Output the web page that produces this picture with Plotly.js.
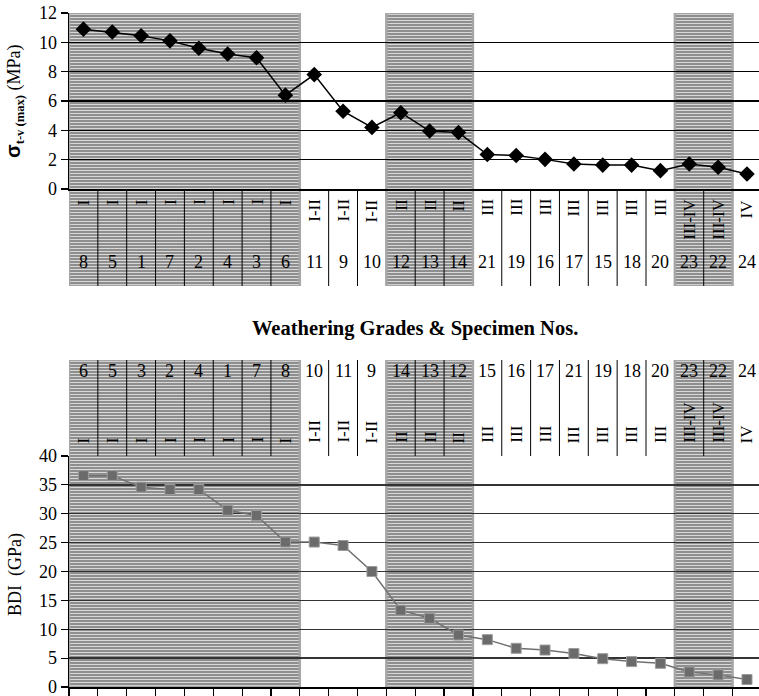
<!DOCTYPE html>
<html>
<head>
<meta charset="utf-8">
<script src="https://cdn.plot.ly/plotly-3.0.1.min.js"></script>
<style>
  html, body { margin: 0; padding: 0; background: #fff; }
  #chart { width: 759px; height: 696px; }
</style>
</head>
<body>
<div id="chart"></div>
<script>
// ---------------- DATA ----------------
const topSpecimens = [8, 5, 1, 7, 2, 4, 3, 6, 11, 9, 10, 12, 13, 14, 21, 19, 16, 17, 15, 18, 20, 23, 22, 24];
const topGrades = ['I','I','I','I','I','I','I','I','I-II','I-II','I-II','II','II','II','III','III','III','III','III','III','III','III-IV','III-IV','IV'];
const sigmaTV = [10.9, 10.7, 10.45, 10.1, 9.6, 9.2, 8.95, 6.4, 7.8, 5.3, 4.2, 5.2, 3.95, 3.85, 2.35, 2.28, 2.02, 1.7, 1.63, 1.63, 1.25, 1.7, 1.48, 1.02];

const bottomSpecimens = [6, 5, 3, 2, 4, 1, 7, 8, 10, 11, 9, 14, 13, 12, 15, 16, 17, 21, 19, 18, 20, 23, 22, 24];
const bottomGrades = ['I','I','I','I','I','I','I','I','I-II','I-II','I-II','II','II','II','III','III','III','III','III','III','III','III-IV','III-IV','IV'];
const bdi = [36.6, 36.6, 34.6, 34.2, 34.2, 30.6, 29.7, 25.1, 25.1, 24.5, 20.0, 13.3, 11.9, 9.0, 8.2, 6.7, 6.4, 5.8, 4.9, 4.4, 4.1, 2.6, 2.1, 1.3];

const topTicks = [0, 2, 4, 6, 8, 10, 12];
const bottomTicks = [0, 5, 10, 15, 20, 25, 30, 35, 40];
const topTitle = '<b><span style="font-family:Liberation Sans;font-size:20px">σ</span><sub>t-v (max)</sub></b> (MPa)';
const bottomTitle = 'BDI\u00a0 (GPa)';
const middleTitle = 'Weathering Grades & Specimen Nos.';

// ---------------- GEOMETRY (pixels) ----------------
const W = 759, H = 696;
const PX_LEFT = 69;
const CAT_W = 28.85;
const py = p => 1 - p / H;
const topPlot = [13, 189], topTable = [189, 286];
const botTable = [360, 456], botPlot = [456, 687];
const xRange = [-0.5, -0.5 + (W - PX_LEFT) / CAT_W];
const FONT = 'Liberation Serif';
const xDom = [PX_LEFT / W, 1];

function groupsOf(grades) {
  const out = []; let prev = null;
  grades.forEach((g, i) => {
    if (g !== prev) { out.push({grade: g, start: i, end: i, idx: out.length}); prev = g; }
    else out[out.length - 1].end = i;
  });
  return out;
}
function groupIndex(grades) {
  const res = []; let gi = -1, prev = null;
  grades.forEach(g => { if (g !== prev) { gi++; prev = g; } res.push(gi); });
  return res;
}

function hatchTrace(grades, xa, ya) {
  const sh = groupsOf(grades).filter(b => b.idx % 2 === 0);
  return {
    type: 'bar', xaxis: xa, yaxis: ya,
    x: sh.map(b => (b.start + b.end) / 2),
    width: sh.map(b => b.end - b.start + 1),
    y: sh.map(() => 1), base: 0,
    cliponaxis: false,
    hoverinfo: 'skip', showlegend: false,
    marker: {
      color: '#8e8e8e',
      line: {color: '#a6a6a6', width: 2.5},
      pattern: {shape: '-', bgcolor: '#8e8e8e', fgcolor: '#ffffff', size: 3, solidity: 0.22, fillmode: 'replace'}
    }
  };
}

const idxTop = topSpecimens.map((_, i) => i);
const idxBot = bottomSpecimens.map((_, i) => i);

// subplots: x/y = top hatch, x2/y2 = bottom hatch, x3/y3 = top data, x4/y4 = bottom data
const data = [
  hatchTrace(topGrades, 'x', 'y'),
  hatchTrace(bottomGrades, 'x2', 'y2'),
  {
    type: 'scatter', mode: 'lines+markers', xaxis: 'x3', yaxis: 'y3',
    x: idxTop, y: sigmaTV, cliponaxis: false, showlegend: false,
    line: {color: '#000000', width: 1.5},
    marker: {symbol: 'diamond', size: 12, color: '#000000'}
  },
  {
    type: 'scatter', mode: 'lines+markers', xaxis: 'x4', yaxis: 'y4',
    x: idxBot, y: bdi, cliponaxis: false, showlegend: false,
    line: {color: '#707070', width: 1.5},
    marker: {symbol: 'square', size: 10, color: '#6b6b6b', line: {color: '#9c9c9c', width: 1}}
  }
];

const hiddenY = (dom, anchor) => ({domain: dom, range: [0, 1], visible: false, anchor: anchor, fixedrange: true});
const hiddenX = (anchor) => ({domain: xDom, range: xRange, visible: false, anchor: anchor, fixedrange: true});

const layout = {
  width: W, height: H,
  margin: {l: 0, r: 0, t: 0, b: 0, pad: 0},
  paper_bgcolor: '#ffffff',
  plot_bgcolor: 'rgba(0,0,0,0)',
  font: {family: FONT, color: '#000000', size: 18},
  showlegend: false,
  barmode: 'overlay',
  xaxis: hiddenX('y'),
  xaxis2: hiddenX('y2'),
  yaxis: hiddenY([py(topTable[1]), py(topPlot[0])], 'x'),
  yaxis2: hiddenY([py(botPlot[1]), py(botTable[0])], 'x2'),
  xaxis3: {
    domain: xDom, range: xRange, anchor: 'y3',
    showgrid: false, zeroline: false, showticklabels: false, ticks: '',
    showline: true, linecolor: '#000000', linewidth: 1.5
  },
  xaxis4: {
    domain: xDom, range: xRange, anchor: 'y4',
    showgrid: false, zeroline: false, showticklabels: false,
    tickmode: 'linear', tick0: -0.5, dtick: 1,
    ticks: 'outside', ticklen: 8, tickwidth: 1.2, tickcolor: '#000000',
    showline: true, linecolor: '#000000', linewidth: 1.5
  },
  yaxis3: {
    domain: [py(topPlot[1]), py(topPlot[0])], range: [0, 12], anchor: 'x3',
    tickmode: 'array', tickvals: topTicks, ticklabeloverflow: 'allow',
    ticks: 'outside', ticklen: 7, tickwidth: 1.2, tickcolor: '#000000',
    showline: true, linecolor: '#000000', linewidth: 1.5,
    showgrid: true, gridcolor: '#000000', gridwidth: 1.3, zeroline: false,
    tickfont: {family: FONT, size: 18, color: '#000000'}
  },
  yaxis4: {
    domain: [py(botPlot[1]), py(botPlot[0])], range: [0, 40], anchor: 'x4',
    tickmode: 'array', tickvals: bottomTicks, ticklabeloverflow: 'allow',
    ticks: 'outside', ticklen: 7, tickwidth: 1.2, tickcolor: '#000000',
    showline: true, linecolor: '#000000', linewidth: 1.5,
    showgrid: true, gridcolor: '#333333', gridwidth: 1.3, zeroline: false,
    tickfont: {family: FONT, size: 18, color: '#000000'}
  },
  annotations: [],
  shapes: []
};

// table cell separator lines
function tableLines(grades, xref, yTopPx, yBotPx) {
  const gi = groupIndex(grades);
  for (let k = 1; k < grades.length; k++) {
    if (gi[k] !== gi[k - 1]) continue; // block border drawn by hatch outline
    layout.shapes.push({
      type: 'line', xref: xref, yref: 'paper', layer: 'above',
      x0: k - 0.5, x1: k - 0.5, y0: py(yBotPx), y1: py(yTopPx),
      line: {color: '#000000', width: 1}
    });
  }
}
tableLines(topGrades, 'x', topTable[0], topTable[1]);
tableLines(bottomGrades, 'x2', botTable[0], botTable[1]);

// table texts
function tableText(specs, grades, xref, numY, gradeY, gradeAnchor) {
  specs.forEach((s, i) => {
    layout.annotations.push({
      xref: xref, yref: 'paper', x: i, y: py(numY), text: String(s),
      showarrow: false, xanchor: 'center', yanchor: 'middle',
      font: {family: FONT, size: 18, color: '#000000'}
    });
    layout.annotations.push({
      xref: xref, yref: 'paper', x: i, y: py(gradeY), text: grades[i],
      showarrow: false, xanchor: 'center', yanchor: gradeAnchor, textangle: -90,
      font: {family: FONT, size: 17, color: '#000000'}
    });
  });
}
tableText(topSpecimens, topGrades, 'x', 262, 197, 'top');
tableText(bottomSpecimens, bottomGrades, 'x2', 371, 445, 'bottom');

// titles
layout.annotations.push({
  xref: 'paper', yref: 'paper', x: 14 / W, y: py(101), text: topTitle, textangle: -90,
  showarrow: false, xanchor: 'center', yanchor: 'middle',
  font: {family: FONT, size: 18, color: '#000000'}
});
layout.annotations.push({
  xref: 'paper', yref: 'paper', x: 15 / W, y: py(575), text: bottomTitle, textangle: -90,
  showarrow: false, xanchor: 'center', yanchor: 'middle',
  font: {family: FONT, size: 18, color: '#000000'}
});
layout.annotations.push({
  xref: 'paper', yref: 'paper', x: 415 / W, y: py(329), text: '<b>' + middleTitle + '</b>',
  showarrow: false, xanchor: 'center', yanchor: 'middle',
  font: {family: FONT, size: 20.5, color: '#000000'}
});

Plotly.newPlot('chart', data, layout, {staticPlot: true, displayModeBar: false});
</script>
</body>
</html>
